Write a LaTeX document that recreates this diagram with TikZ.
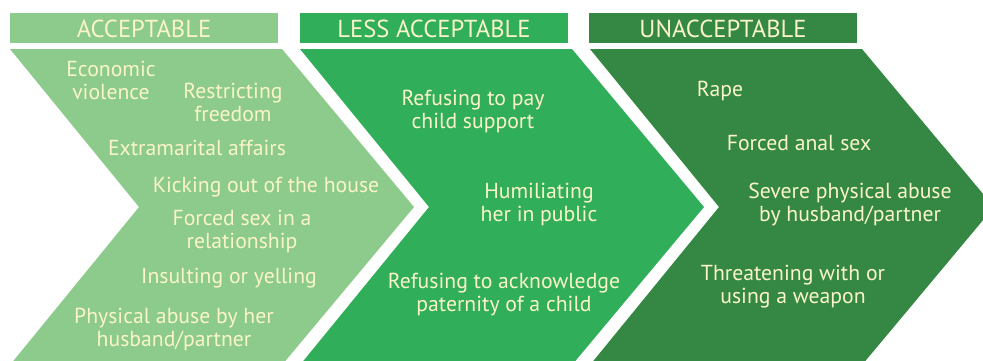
\documentclass[tikz,border=0pt]{standalone}
\usepackage{fontspec}
\setmainfont{PT Sans}
\definecolor{gLight}{HTML}{8CCB8B}
\definecolor{gMid}{HTML}{30AE5A}
\definecolor{gDark}{HTML}{358844}
\definecolor{cream}{HTML}{FAF5C8}
\begin{document}
\begin{tikzpicture}[x=1pt,y=-1pt,
  hdr/.style={fill=#1,draw=none},
  chev/.style={fill=#1,draw=none},
  hdrtext/.style={text=cream,inner sep=0pt,font=\fontsize{24.6}{26}\selectfont},
  item/.style={text=cream,inner sep=0pt,align=center,yshift=-0.5pt,font=\fontsize{21.7}{22.5}\selectfont}]
\useasboundingbox (0,0) rectangle (983,360);
\clip (0,0) rectangle (983,360);
% header bars
\path[hdr=gLight] (10,13) rectangle (278,43);
\path[hdr=gMid] (300,13) rectangle (568,43);
\path[hdr=gDark] (589,13) rectangle (857,43);
% chevrons
\foreach \xo/\c in {10/gLight,300/gMid,590/gDark}{
  \path[chev=\c] (\xo,49) -- ++(272,0) -- ++(132,158) -- ++(-132,158) -- ++(-272,0) -- ++(129,-158) -- cycle;
}
% header texts
\node[hdrtext] (h1) at (144,29) {ACCEPTABLE};
\node[hdrtext] (h2) at (434,29) {LESS ACCEPTABLE};
\node[hdrtext] (h3) at (723,29) {UNACCEPTABLE};
% acceptable
\node[item] (a1) at (111,80) {Economic\\violence};
\node[item] (a2) at (233,102) {Restricting\\freedom};
\node[item] (a3) at (197,147) {Extramarital affairs};
\node[item] (a4) at (266,187) {Kicking out of the house};
\node[item] (a5) at (242,231) {Forced sex in a\\relationship};
\node[item] (a6) at (229,278) {Insulting or yelling};
\node[item] (a7) at (174,329) {Physical abuse by her\\husband/partner};
% less acceptable
\node[item] (b1) at (473,111) {Refusing to pay\\child support};
\node[item] (b2) at (539,204) {Humiliating\\her in public};
\node[item] (b3) at (504,294) {Refusing to acknowledge\\paternity of a child};
% unacceptable
\node[item] (c1) at (720,90) {Rape};
\node[item] (c2) at (799,143) {Forced anal sex};
\node[item] (c3) at (850,204) {Severe physical abuse\\by husband/partner};
\node[item] (c4) at (793,286) {Threatening with or\\using a weapon};
\end{tikzpicture}
\end{document}
